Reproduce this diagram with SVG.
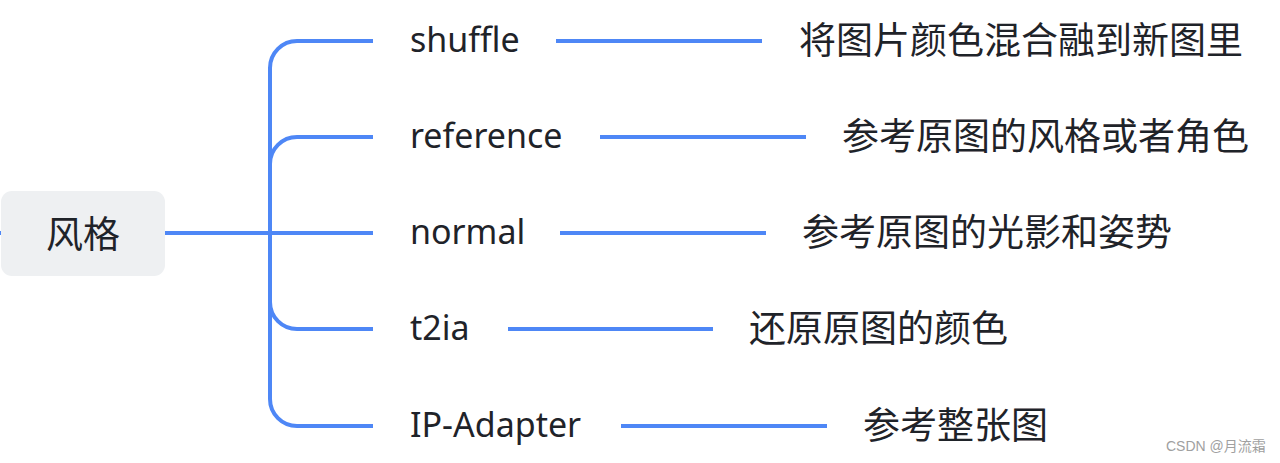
<svg xmlns="http://www.w3.org/2000/svg" width="1280" height="463" viewBox="0 0 1280 463">
<style>
.ln{fill:none;stroke:#4e87f6;stroke-width:4;stroke-linecap:butt}
.lat{font-family:"Noto Sans","DejaVu Sans",sans-serif;font-size:34px;fill:#1f2329}
.cjk{font-family:"Noto Sans CJK SC",sans-serif;font-size:37px;fill:#1f2329}
.wm{font-family:"Liberation Sans","Noto Sans CJK SC",sans-serif;font-size:14px;fill:#a0a0a0}
</style>
<rect width="1280" height="463" fill="#ffffff"/>
<g id="connectors">
<line class="ln" x1="0" y1="233" x2="3" y2="233"/>
<line class="ln" x1="165" y1="233" x2="373" y2="233"/>
<path class="ln" d="M373 41 H297 A27 27 0 0 0 270 68 V399 A27 27 0 0 0 297 426 H373"/>
<path class="ln" d="M373 137 H297 A27 27 0 0 0 270 164"/>
<path class="ln" d="M373 329 H297 A27 27 0 0 1 270 302"/>
<line class="ln" x1="556" y1="41" x2="762" y2="41"/>
<line class="ln" x1="600" y1="137" x2="806" y2="137"/>
<line class="ln" x1="560" y1="233" x2="766" y2="233"/>
<line class="ln" x1="508" y1="329" x2="713" y2="329"/>
<line class="ln" x1="621" y1="426" x2="827" y2="426"/>
</g>
<g id="root">
<rect x="1" y="191" width="164" height="85" rx="11" fill="#eef0f2"/>
<text class="cjk" x="83" y="248" text-anchor="middle" font-size="45">风格</text>
</g>
<g id="n-shuffle"><text class="lat" x="410" y="52">shuffle</text></g>
<g id="n-reference"><text class="lat" x="410" y="148">reference</text></g>
<g id="n-normal"><text class="lat" x="410" y="244">normal</text></g>
<g id="n-t2ia"><text class="lat" x="410" y="340">t2ia</text></g>
<g id="n-ipadapter"><text class="lat" x="410" y="437">IP-Adapter</text></g>
<g id="d-shuffle"><text class="cjk" x="799" y="54">将图片颜色混合融到新图里</text></g>
<g id="d-reference"><text class="cjk" x="842" y="150">参考原图的风格或者角色</text></g>
<g id="d-normal"><text class="cjk" x="802" y="246">参考原图的光影和姿势</text></g>
<g id="d-t2ia"><text class="cjk" x="749" y="342">还原原图的颜色</text></g>
<g id="d-ipadapter"><text class="cjk" x="863" y="439">参考整张图</text></g>
<text class="wm" x="1166" y="451">CSDN @月流霜</text>
</svg>
